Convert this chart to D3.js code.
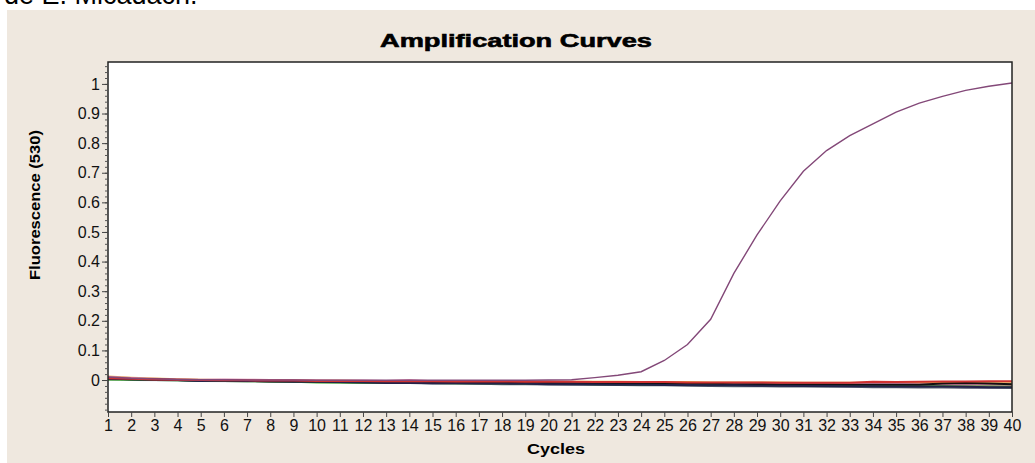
<!DOCTYPE html>
<html>
<head>
<meta charset="utf-8">
<script src="https://cdn.jsdelivr.net/npm/d3@7"></script>
<style>
  html, body { margin: 0; padding: 0; background: #ffffff; }
  svg { display: block; }
  text { font-family: "Liberation Sans", Arial, sans-serif; }
</style>
</head>
<body>
<svg id="chart" width="1035" height="463"></svg>
<script>
// Cycle numbers 1..40 and axis labels
const cycles = [1,2,3,4,5,6,7,8,9,10,11,12,13,14,15,16,17,18,19,20,21,22,23,24,25,26,27,28,29,30,31,32,33,34,35,36,37,38,39,40];
const yTicks = [0,0.1,0.2,0.3,0.4,0.5,0.6,0.7,0.8,0.9,1];
const yTickLabels = ["0","0.1","0.2","0.3","0.4","0.5","0.6","0.7","0.8","0.9","1"];

// Amplified sample (channel 530)
const ampSample = [0.010,0.006,0.004,0.002,0.001,0.001,0.000,0.000,0.000,-0.001,-0.001,-0.001,-0.001,-0.001,-0.001,-0.001,-0.001,-0.001,-0.001,0.000,0.001,0.008,0.016,0.028,0.066,0.120,0.205,0.360,0.490,0.605,0.705,0.775,0.825,0.865,0.905,0.935,0.958,0.978,0.992,1.003];

// Non-amplifying samples
const sRed = [0.006,0.004,0.002,0.001,0.000,-0.001,-0.001,-0.002,-0.002,-0.003,-0.003,-0.003,-0.004,-0.004,-0.004,-0.005,-0.005,-0.005,-0.006,-0.006,-0.006,-0.007,-0.007,-0.007,-0.007,-0.008,-0.008,-0.008,-0.008,-0.009,-0.009,-0.009,-0.009,-0.006,-0.007,-0.006,-0.005,-0.005,-0.004,-0.004];
const sNavy = [0.004,0.003,0.001,0.000,-0.003,-0.002,-0.003,-0.004,-0.006,-0.006,-0.007,-0.008,-0.010,-0.009,-0.011,-0.011,-0.012,-0.012,-0.013,-0.014,-0.014,-0.015,-0.016,-0.016,-0.017,-0.017,-0.018,-0.018,-0.019,-0.019,-0.020,-0.020,-0.021,-0.021,-0.022,-0.022,-0.022,-0.023,-0.024,-0.024];
const sGreen = [0.002,0.001,0.000,-0.001,-0.002,-0.003,-0.004,-0.005,-0.006,-0.008,-0.008,-0.009,-0.009,-0.010,-0.010,-0.011,-0.011,-0.011,-0.012,-0.012,-0.013,-0.014,-0.014,-0.015,-0.015,-0.015,-0.016,-0.016,-0.017,-0.017,-0.017,-0.017,-0.018,-0.018,-0.018,-0.017,-0.017,-0.018,-0.018,-0.019];
const sBlack = [0.005,0.003,0.002,0.000,-0.002,-0.002,-0.003,-0.004,-0.004,-0.005,-0.006,-0.006,-0.007,-0.007,-0.008,-0.008,-0.009,-0.009,-0.010,-0.010,-0.011,-0.011,-0.012,-0.012,-0.013,-0.013,-0.013,-0.014,-0.014,-0.015,-0.015,-0.015,-0.016,-0.016,-0.016,-0.016,-0.012,-0.010,-0.012,-0.014];
const sPink = [0.010,0.007,0.004,0.002,0.001,0.002,0.001,0.000,-0.001,-0.001,-0.002,-0.002,-0.003,0.000,-0.004,-0.004,-0.005,-0.005,-0.006,-0.006,-0.007,-0.007,-0.008,-0.008,-0.009,-0.010,-0.010,-0.011,-0.011,-0.011,-0.012,-0.012,-0.013,-0.013,-0.013,-0.014,-0.014,-0.015,-0.015,-0.016];
const sSlate = [0.003,0.002,0.000,-0.001,-0.003,-0.003,-0.004,-0.005,-0.006,-0.007,-0.008,-0.009,-0.009,-0.010,-0.012,-0.012,-0.013,-0.014,-0.014,-0.015,-0.016,-0.016,-0.017,-0.018,-0.018,-0.019,-0.020,-0.021,-0.021,-0.022,-0.022,-0.023,-0.023,-0.024,-0.024,-0.025,-0.025,-0.026,-0.026,-0.027];
const sOlive = [0.008,0.006,0.003,0.001,0.000,-0.001,-0.002,-0.003,-0.004,-0.005,-0.005,-0.006,-0.006,-0.007,-0.008,-0.008,-0.009,-0.009,-0.010,-0.011,-0.011,-0.012,-0.013,-0.013,-0.014,-0.014,-0.015,-0.015,-0.016,-0.016,-0.017,-0.017,-0.017,-0.018,-0.018,-0.019,-0.019,-0.019,-0.020,-0.020];
const sViolet = [0.006,0.004,0.002,0.000,-0.001,-0.002,-0.003,-0.004,-0.004,-0.005,-0.006,-0.007,-0.007,-0.008,-0.009,-0.010,-0.010,-0.011,-0.012,-0.012,-0.013,-0.014,-0.014,-0.015,-0.016,-0.016,-0.017,-0.018,-0.018,-0.019,-0.019,-0.020,-0.021,-0.021,-0.022,-0.023,-0.023,-0.024,-0.025,-0.025];
const sOrange = [0.012,0.008,0.005,0.003,0.001,0.000,0.000,-0.001,-0.001,-0.002,-0.002,-0.003,-0.003,-0.003,-0.004,-0.004,-0.004,-0.005,-0.005,-0.005,-0.006,-0.006,-0.006,-0.007,-0.007,-0.007,-0.008,-0.008,-0.008,-0.008,-0.009,-0.009,-0.009,-0.009,-0.010,-0.010,-0.010,-0.010,-0.011,-0.011];
const sPale = [0.001,0.000,-0.001,-0.002,-0.003,-0.004,-0.004,-0.005,-0.006,-0.006,-0.007,-0.008,-0.008,-0.009,-0.010,-0.010,-0.011,-0.012,-0.012,-0.013,-0.013,-0.014,-0.015,-0.015,-0.016,-0.017,-0.017,-0.018,-0.018,-0.019,-0.014,-0.013,-0.019,-0.020,-0.021,-0.021,-0.022,-0.022,-0.023,-0.023];

const baselineSeries = [
  { values: sPale,   color: "#c6cedd" },
  { values: sOrange, color: "#e8b24e" },
  { values: sOlive,  color: "#9aa83a" },
  { values: sViolet, color: "#7548a8" },
  { values: sSlate,  color: "#56606e" },
  { values: sGreen,  color: "#3fae2a" },
  { values: sPink,   color: "#d986a8" },
  { values: sBlack,  color: "#111111" },
  { values: sNavy,   color: "#23234a" },
  { values: sRed,    color: "#d03232" }
];

const svg = d3.select("#chart");

// Page fragment above the chart panel
svg.append("text")
  .attr("x", 4).attr("y", 4)
  .attr("font-size", 27)
  .attr("fill", "#000")
  .text("de E. Micadach.");

// Chart panel background
svg.append("rect")
  .attr("x", 7).attr("y", 10)
  .attr("width", 1028).attr("height", 453)
  .attr("fill", "#efe8df");

const plot = { left: 108, right: 1012, top: 62, bottom: 412 };

const x = d3.scaleLinear().domain([1, 40]).range([plot.left, plot.right]);
const y = d3.scaleLinear().domain([-0.108, 1.074]).range([plot.bottom, plot.top]);

// Title
svg.append("text")
  .attr("x", 516).attr("y", 47)
  .attr("text-anchor", "middle")
  .attr("font-family", "'DejaVu Sans', sans-serif")
  .attr("font-weight", 900)
  .attr("font-size", 19)
  .attr("textLength", 272)
  .attr("lengthAdjust", "spacingAndGlyphs")
  .attr("stroke", "#000")
  .attr("stroke-width", 0.6)
  .attr("fill", "#000")
  .text("Amplification Curves");

// Plot area
svg.append("rect")
  .attr("x", plot.left).attr("y", plot.top)
  .attr("width", plot.right - plot.left).attr("height", plot.bottom - plot.top)
  .attr("fill", "#ffffff");

svg.append("clipPath").attr("id", "plotClip")
  .append("rect")
  .attr("x", plot.left).attr("y", plot.top)
  .attr("width", plot.right - plot.left).attr("height", plot.bottom - plot.top);

const line = d3.line()
  .x((d, i) => x(cycles[i]))
  .y(d => y(d));

const curves = svg.append("g").attr("clip-path", "url(#plotClip)");

curves.selectAll("path.base")
  .data(baselineSeries)
  .join("path")
  .attr("class", "base")
  .attr("d", d => line(d.values))
  .attr("fill", "none")
  .attr("stroke", d => d.color)
  .attr("stroke-width", 2);

curves.append("path")
  .attr("d", line(ampSample))
  .attr("fill", "none")
  .attr("stroke", "#834878")
  .attr("stroke-width", 1.4);

// Frame
svg.append("rect")
  .attr("x", plot.left).attr("y", plot.top)
  .attr("width", plot.right - plot.left).attr("height", plot.bottom - plot.top)
  .attr("fill", "none")
  .attr("stroke", "#222")
  .attr("stroke-width", 1.5);

// Y axis: minor ticks
const minorTicks = d3.range(-50, 54).map(k => k * 0.02).filter(v => v >= -0.1 && v <= 1.06);
svg.append("g")
  .attr("transform", `translate(${plot.left},0)`)
  .call(d3.axisLeft(y).tickValues(minorTicks).tickSize(3).tickFormat(""))
  .call(g => g.select(".domain").remove())
  .call(g => g.selectAll("line").attr("stroke", "#555"));

// Y axis: major ticks and labels
svg.append("g")
  .attr("transform", `translate(${plot.left},0)`)
  .call(d3.axisLeft(y).tickValues(yTicks).tickSize(6).tickPadding(2)
    .tickFormat((d, i) => yTickLabels[i]))
  .call(g => g.select(".domain").remove())
  .call(g => g.selectAll("line").attr("stroke", "#444"))
  .call(g => g.selectAll("text")
    .attr("font-family", "'Liberation Sans', Arial, sans-serif")
    .attr("font-size", 16)
    .attr("fill", "#111"));

// X axis
svg.append("g")
  .attr("transform", `translate(0,${plot.bottom})`)
  .call(d3.axisBottom(x).tickValues(cycles).tickSize(5).tickPadding(3)
    .tickFormat(d3.format("d")))
  .call(g => g.select(".domain").remove())
  .call(g => g.selectAll("line").attr("stroke", "#444"))
  .call(g => g.selectAll("text")
    .attr("font-family", "'Liberation Sans', Arial, sans-serif")
    .attr("font-size", 16)
    .attr("fill", "#111"));

// Axis titles
svg.append("text")
  .attr("x", 556).attr("y", 454)
  .attr("text-anchor", "middle")
  .attr("font-weight", "bold")
  .attr("font-size", 15)
  .attr("textLength", 58)
  .attr("lengthAdjust", "spacingAndGlyphs")
  .attr("fill", "#000")
  .text("Cycles");

svg.append("text")
  .attr("transform", "translate(40,205) rotate(-90)")
  .attr("text-anchor", "middle")
  .attr("font-weight", "bold")
  .attr("font-size", 15)
  .attr("textLength", 150)
  .attr("lengthAdjust", "spacingAndGlyphs")
  .attr("fill", "#000")
  .text("Fluorescence (530)");
</script>
</body>
</html>
